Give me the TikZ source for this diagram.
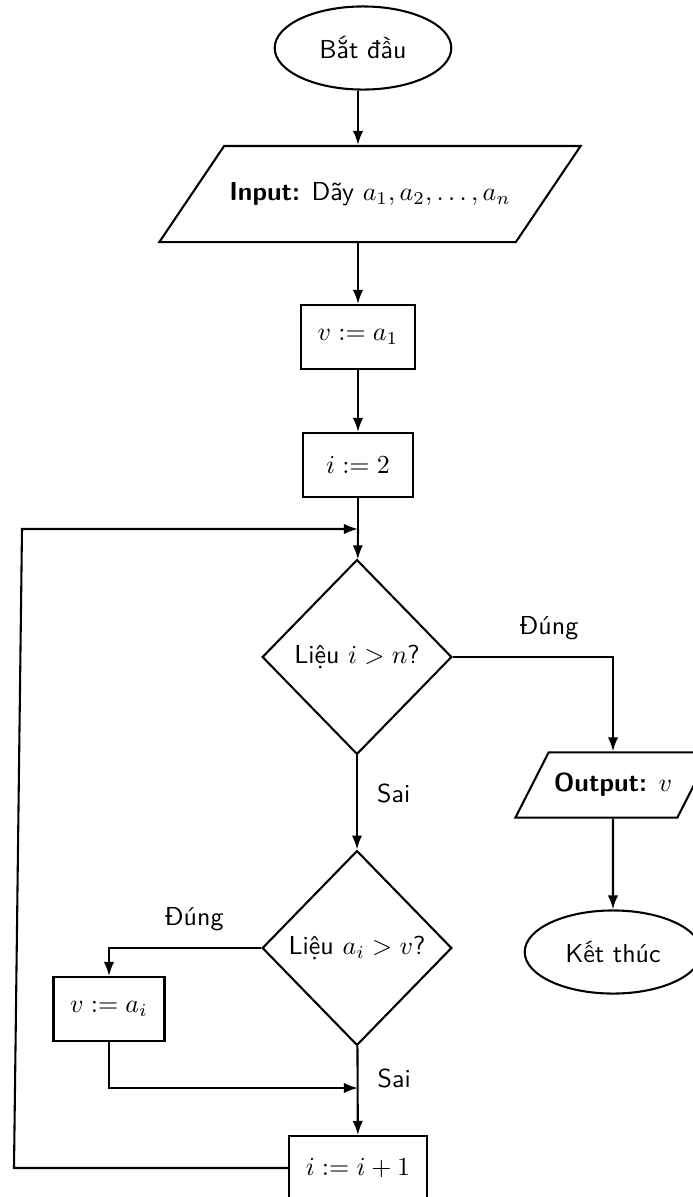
\documentclass[tikz,border=0pt]{standalone}
\usepackage{fontspec}
\usepackage{amsmath}
\usetikzlibrary{arrows.meta, shapes.geometric}

\begin{document}
\begin{tikzpicture}[x=0.385pt, y=-0.385pt, thick, font=\sffamily,
    arr/.style={-{Latex[length=5.4pt, width=4pt]}},
    term/.style={ellipse, draw, minimum width=68pt, minimum height=32pt},
    proc/.style={rectangle, draw, minimum width=42.7pt, minimum height=24.6pt, inner xsep=6.4pt},
    io/.style={trapezium, draw, inner xsep=2pt},
    dec/.style={diamond, draw, inner sep=0pt, minimum width=73pt, minimum height=75pt}]
    \useasboundingbox (0,0) rectangle (693,1197);

    \node[term] at (363, 48)   (start) {Bắt đầu};
    \node[io, trapezium left angle=56, trapezium right angle=124, inner ysep=14pt] at (370, 194) (input) {\textbf{Input:} Dãy $a_1, a_2, \ldots, a_n$};
    \node[proc] at (358, 337)  (v1) {$v := a_1$};
    \node[proc] at (358, 465)  (i2) {$i := 2$};
    \node[dec] at (357, 657)   (c1) {Liệu $i > n$?};
    \node[io, trapezium left angle=63, trapezium right angle=117, inner ysep=8pt] at (613, 785) (out) {\textbf{Output:} $v$};
    \node[term] at (613, 952)  (stop) {Kết thúc};
    \node[dec] at (357, 948)   (c2) {Liệu $a_i > v$?};
    \node[proc] at (109, 1009) (vi) {$v := a_i$};
    \node[proc] at (358, 1168) (inc) {$i := i + 1$};

    \coordinate (loop) at (358, 529);
    \coordinate (join) at (358, 1088);
    \coordinate (lb) at (14, 1168);
    \coordinate (lt) at (22, 529);

    \draw[arr] (v1 |- start.south) -- (v1 |- input.north);
    \draw[arr] (v1 |- input.south) -- (v1);
    \draw[arr] (v1) -- (i2);
    \draw (i2) -- (loop);
    \draw[arr] (loop) -- (c1);
    \draw[arr] (c1.east) -| node[pos=0.3, above=3pt] {Đúng} (out);
    \draw[arr] (c1) -- node[pos=0.4, right=4pt] {Sai} (c2);
    \draw[arr] (out) -- (stop);
    \draw[arr] (c2.west) -| node[pos=0.22, above=3pt] {Đúng} (vi);
    \draw[arr] (vi) |- (join);
    \draw[arr] (c2) -- node[pos=0.36, right=4pt] {Sai} (inc);
    \draw[arr] (inc.west) -- (lb) -- (lt) -- (loop);

\end{tikzpicture}
\end{document}
